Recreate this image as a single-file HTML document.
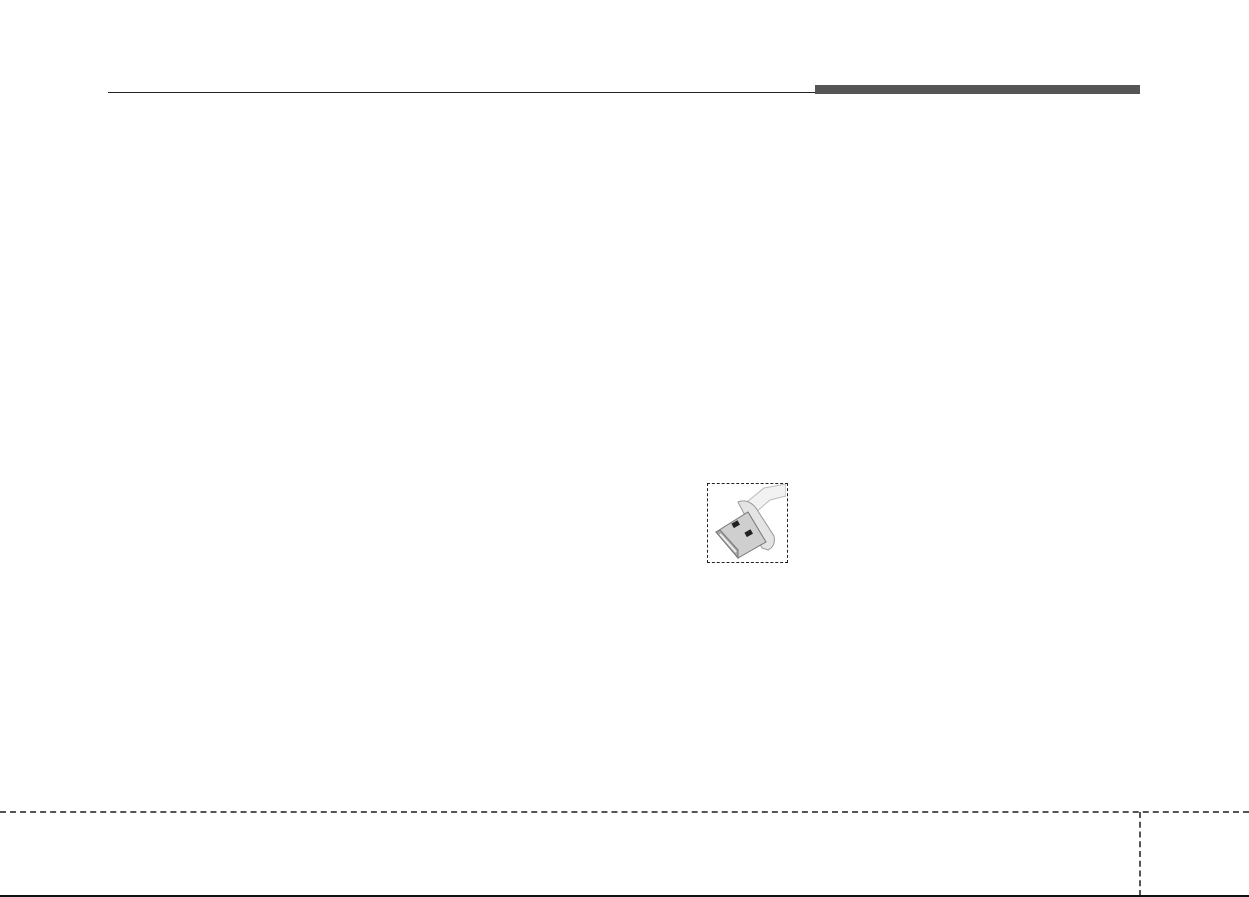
<!DOCTYPE html>
<html><head><style>
html,body{margin:0;padding:0;background:#fff;}
body{width:1249px;height:897px;position:relative;overflow:hidden;font-family:"Liberation Sans",sans-serif;}
.a{position:absolute;}
</style></head><body>
<div class="a" style="left:108px;top:92px;width:707px;height:1px;background:#222;"></div>
<div class="a" style="left:815px;top:85px;width:325px;height:9px;background:#555;"></div>
<div class="a" style="left:0;top:811px;width:1249px;height:0;border-top:2px dashed #555;"></div>
<div class="a" style="left:1139px;top:812px;width:0;height:84px;border-left:2px dashed #555;"></div>
<div class="a" style="left:0;top:895px;width:1249px;height:2px;background:#111;"></div>
<div class="a" style="left:707px;top:483px;width:79px;height:78px;border:1px dashed #222;"></div>
<svg class="a" style="left:708px;top:484px" width="78" height="77" viewBox="0 0 78 77">
<path d="M34 22 L56 4 L78 0 L78 12 L62 16 L48 28 Z" fill="#f2f2f2" stroke="#bbb"/>
<path d="M30 18 Q40 14 48 24 L66 52 Q68 62 60 66 L54 64 Z" fill="#e4e4e4" stroke="#999"/>
<path d="M8 48 L40 28 L58 58 L30 74 Z" fill="#cfcfcf" stroke="#777"/>
<path d="M8 48 L30 74 L30 66 L12 46 Z" fill="#aaa" stroke="#777"/>
<path d="M12 50 L28 68" stroke="#eee" stroke-width="2"/>
<rect x="24" y="38" width="7" height="5" fill="#222" transform="rotate(-30 27 40)"/>
<rect x="37" y="47" width="7" height="5" fill="#222" transform="rotate(-30 40 49)"/>
</svg>
</body></html>
